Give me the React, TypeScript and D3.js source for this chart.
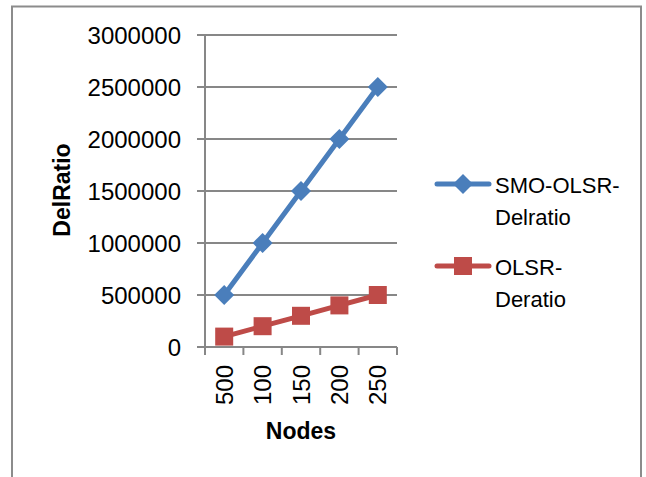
import React, { useEffect, useRef } from 'react';
import * as d3 from 'd3';

const nodes = ['500', '100', '150', '200', '250'];
const smoOlsr = [500000, 1000000, 1500000, 2000000, 2500000];
const olsr = [100000, 200000, 300000, 400000, 500000];
const yTicks = [0, 500000, 1000000, 1500000, 2000000, 2500000, 3000000];

const seriesList = [
  { name: ['SMO-OLSR-', 'Delratio'], values: smoOlsr, color: '#4a7ebb', marker: 'diamond' },
  { name: ['OLSR-', 'Deratio'], values: olsr, color: '#be4b48', marker: 'square' }
];

const App = () => {
  const container = useRef(null);

  const width = 646;
  const height = 477;
  const font = '"Liberation Sans", Arial, sans-serif';
  const grey = '#878787';

  useEffect(() => {
    drawChart();
  }, []);

  const drawChart = () => {
    const svg = d3.select(container.current);
    svg.selectAll('*').remove();

    // outer frame
    svg
      .append('rect')
      .attr('x', 12)
      .attr('y', 6.5)
      .attr('width', 629)
      .attr('height', 480)
      .attr('fill', 'white')
      .attr('stroke', '#8c8c8c')
      .attr('stroke-width', 2);

    const xScale = d3.scaleBand().domain(nodes).range([205, 397]);
    const yScale = d3.scaleLinear().domain([0, 3000000]).range([347, 35]);

    // gridlines
    svg
      .selectAll('.grid')
      .data(yTicks)
      .join('line')
      .attr('class', 'grid')
      .attr('x1', 197)
      .attr('x2', 397)
      .attr('y1', d => yScale(d))
      .attr('y2', d => yScale(d))
      .attr('stroke', grey)
      .attr('stroke-width', 2);

    // y axis line
    svg
      .append('line')
      .attr('x1', 205)
      .attr('x2', 205)
      .attr('y1', yScale(3000000))
      .attr('y2', yScale(0) + 8)
      .attr('stroke', grey)
      .attr('stroke-width', 2);

    // x tick marks at band edges
    const edges = nodes.map(d => xScale(d)).concat([xScale.range()[1]]);
    svg
      .selectAll('.xtick')
      .data(edges)
      .join('line')
      .attr('class', 'xtick')
      .attr('x1', d => d)
      .attr('x2', d => d)
      .attr('y1', yScale(0))
      .attr('y2', yScale(0) + 8)
      .attr('stroke', grey)
      .attr('stroke-width', 2);

    // y tick labels
    svg
      .selectAll('.ylabel')
      .data(yTicks)
      .join('text')
      .attr('class', 'ylabel')
      .attr('x', 181)
      .attr('y', d => yScale(d))
      .attr('dy', '0.36em')
      .attr('text-anchor', 'end')
      .style('font-family', font)
      .style('font-size', '24px')
      .text(d => d);

    // x tick labels (rotated)
    svg
      .selectAll('.xlabel')
      .data(nodes)
      .join('text')
      .attr('class', 'xlabel')
      .attr('transform', d => `translate(${xScale(d) + xScale.bandwidth() / 2}, 365) rotate(-90)`)
      .attr('dy', '0.36em')
      .attr('text-anchor', 'end')
      .style('font-family', font)
      .style('font-size', '24px')
      .text(d => d);

    // axis titles
    svg
      .append('text')
      .attr('x', 301)
      .attr('y', 439)
      .attr('text-anchor', 'middle')
      .style('font-family', font)
      .style('font-size', '23px')
      .style('font-weight', 'bold')
      .text('Nodes');

    svg
      .append('text')
      .attr('transform', 'translate(62, 190) rotate(-90)')
      .attr('dy', '0.36em')
      .attr('text-anchor', 'middle')
      .style('font-family', font)
      .style('font-size', '23px')
      .style('font-weight', 'bold')
      .text('DelRatio');

    const line = d3
      .line<number>()
      .x((d, i) => xScale(nodes[i]) + xScale.bandwidth() / 2)
      .y(d => yScale(d));

    const drawMarker = (g, kind, color, cx, cy) => {
      if (kind === 'diamond') {
        g.append('path')
          .attr('d', `M${cx},${cy - 10}L${cx + 10},${cy}L${cx},${cy + 10}L${cx - 10},${cy}Z`)
          .attr('fill', color);
      } else {
        g.append('rect')
          .attr('x', cx - 9)
          .attr('y', cy - 9)
          .attr('width', 18)
          .attr('height', 18)
          .attr('fill', color);
      }
    };

    seriesList.forEach(s => {
      const g = svg.append('g');
      g.append('path')
        .datum(s.values)
        .attr('d', line)
        .attr('fill', 'none')
        .attr('stroke', s.color)
        .attr('stroke-width', 5)
        .attr('stroke-linejoin', 'round');
      s.values.forEach((v, i) => {
        drawMarker(g, s.marker, s.color, xScale(nodes[i]) + xScale.bandwidth() / 2, yScale(v));
      });
    });

    // legend
    const legendRows = [184, 266];
    seriesList.forEach((s, i) => {
      const ly = legendRows[i];
      const g = svg.append('g');
      g.append('line')
        .attr('x1', 437)
        .attr('x2', 489)
        .attr('y1', ly)
        .attr('y2', ly)
        .attr('stroke', s.color)
        .attr('stroke-width', 5)
        .attr('stroke-linecap', 'round');
      drawMarker(g, s.marker, s.color, 463, ly);
      s.name.forEach((t, j) => {
        g.append('text')
          .attr('x', 495)
          .attr('y', ly + 9 + j * 32)
          .style('font-family', font)
          .style('font-size', '22px')
          .text(t);
      });
    });
  };

  return (
    <svg
      ref={container}
      width={width}
      height={height}
      style={{ position: 'absolute', left: 0, top: 0, background: 'white' }}
    ></svg>
  );
};

export default App;
